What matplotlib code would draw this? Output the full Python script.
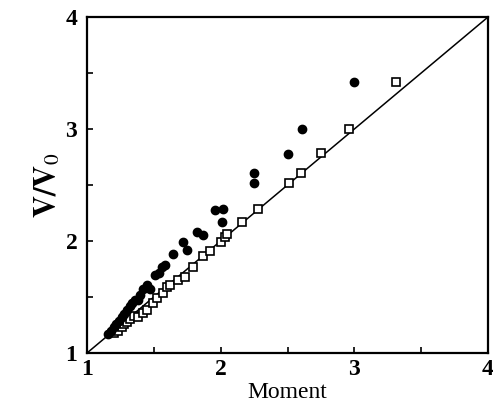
import numpy as np
import matplotlib
matplotlib.use('Agg')
import matplotlib.pyplot as plt

#%% Data
# filled circles
circ_x = [1.16, 1.18, 1.20, 1.22, 1.24, 1.26, 1.28, 1.30, 1.32, 1.34, 1.36, 1.38, 1.40, 1.42,
          1.45, 1.47, 1.51, 1.54, 1.56, 1.58, 1.64, 1.72, 1.75, 1.82, 1.87, 1.96, 2.02, 2.01,
          2.25, 2.25, 2.50, 2.61, 3.00]
circ_y = [1.17, 1.20, 1.23, 1.26, 1.29, 1.32, 1.35, 1.38, 1.42, 1.45, 1.47, 1.47, 1.52, 1.57,
          1.61, 1.57, 1.70, 1.71, 1.77, 1.79, 1.88, 1.99, 1.92, 2.08, 2.05, 2.28, 2.29, 2.17,
          2.61, 2.52, 2.78, 3.00, 3.42]
# open squares
sq_x = [1.20, 1.23, 1.26, 1.28, 1.30, 1.32, 1.35, 1.38, 1.42, 1.45, 1.49, 1.52, 1.57, 1.60,
        1.62, 1.68, 1.73, 1.79, 1.87, 1.92, 2.00, 2.03, 2.05, 2.16, 2.28, 2.51, 2.60, 2.75,
        2.96, 3.31]
sq_y = [1.18, 1.20, 1.23, 1.26, 1.28, 1.30, 1.33, 1.32, 1.36, 1.38, 1.45, 1.49, 1.54, 1.59,
        1.61, 1.65, 1.68, 1.77, 1.87, 1.91, 1.99, 2.04, 2.06, 2.17, 2.29, 2.52, 2.61, 2.79,
        3.00, 3.42]
line_xy = [1, 4]  # y = x reference line

major_ticks = [1, 2, 3, 4]
minor_ticks = [1.5, 2.5, 3.5]

#%% Plotting
plt.rcParams['font.family'] = 'Liberation Serif'
plt.rcParams['mathtext.fontset'] = 'stix'

fig = plt.figure(figsize=(4.93, 4.15), dpi=100)
ax = fig.add_axes([0.1765, 0.1494, 0.8134, 0.8096])

ax.plot(line_xy, line_xy, color='black', lw=1.1, zorder=1)
ax.plot(sq_x, sq_y, 's', ms=5.8, mfc='white', mec='black', mew=1.2, zorder=2)
ax.plot(circ_x, circ_y, 'o', ms=6, color='black', zorder=3)

ax.set_xlim(1, 4)
ax.set_ylim(1, 4)
ax.set_xticks(major_ticks)
ax.set_yticks(major_ticks)
ax.set_xticks(minor_ticks, minor=True)
ax.set_yticks(minor_ticks, minor=True)
ax.tick_params(which='both', direction='in', length=4, width=1.2)
ax.tick_params(axis='x', labelsize=17, pad=4)
ax.tick_params(axis='y', labelsize=17, pad=7)
for lab in ax.get_xticklabels() + ax.get_yticklabels():
    lab.set_fontweight('bold')
for sp in ax.spines.values():
    sp.set_linewidth(1.6)

ax.set_xlabel('Moment', fontsize=17, labelpad=2)
ax.set_ylabel(r'$\mathbf{V/V}_0$', fontsize=22, labelpad=2)

fig.savefig('out.png', dpi=100)
